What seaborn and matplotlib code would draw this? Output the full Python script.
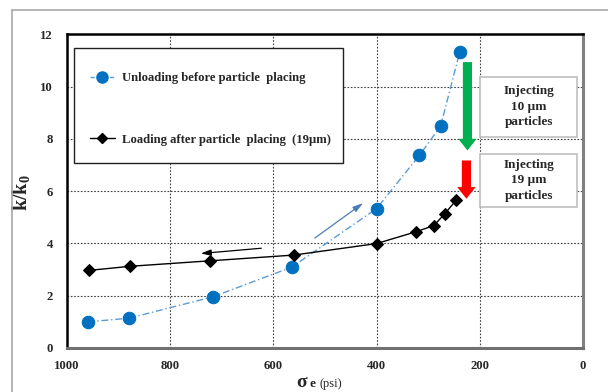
import matplotlib
matplotlib.use("Agg")
import matplotlib.pyplot as plt
from matplotlib.lines import Line2D
from matplotlib.patches import Rectangle
import pandas as pd
import seaborn as sns

# unloading before particle placing (blue)
unload_stress = [960, 880, 717, 564, 400, 317, 276, 239]
unload_k = [0.99, 1.13, 1.95, 3.09, 5.33, 7.37, 8.49, 11.32]

# loading after particle placing 19um (black)
load_stress = [958, 877, 722, 560, 400, 324, 289, 268, 246]
load_k = [2.96, 3.12, 3.33, 3.55, 3.99, 4.44, 4.68, 5.13, 5.65]

x_ticks = [1000, 800, 600, 400, 200, 0]
y_ticks = [0, 2, 4, 6, 8, 10, 12]

legend_labels = ["Unloading before particle  placing",
                 "Loading after particle  placing  (19\u00b5m)"]
box_labels = ["Injecting\n10 \u00b5m\nparticles", "Injecting\n19 \u00b5m\nparticles"]

BLUE = "#0070C0"
BLUE_LINE = "#5B9BD5"
SERIF = ["Liberation Serif", "DejaVu Serif"]

sns.set_theme(style="white")
plt.rcParams["font.family"] = SERIF
plt.rcParams["mathtext.fontset"] = "custom"
plt.rcParams["mathtext.rm"] = "Liberation Serif"
plt.rcParams["mathtext.bf"] = "Liberation Serif:bold"

fig = plt.figure(figsize=(6.08, 3.92), dpi=100)
ax = fig.add_axes([0.110, 0.113, 0.849, 0.799])

unload = pd.DataFrame({"stress": unload_stress, "k": unload_k})
load = pd.DataFrame({"stress": load_stress, "k": load_k})

sns.lineplot(data=unload, x="stress", y="k", ax=ax, sort=False, estimator=None,
             color=BLUE_LINE, lw=1.0, linestyle=(0, (5, 2, 1, 2)),
             marker="o", markersize=9, markerfacecolor=BLUE,
             markeredgecolor=BLUE, zorder=4)
sns.lineplot(data=load, x="stress", y="k", ax=ax, sort=False, estimator=None,
             color="black", lw=1.0, marker="D", markersize=6.5,
             markerfacecolor="black", markeredgecolor="black", zorder=5)

ax.set_xlim(1000, 0)
ax.set_ylim(0, 12)
ax.set_xticks(x_ticks)
ax.set_yticks(y_ticks)
ax.tick_params(length=0, labelsize=9.2)
ax.tick_params(axis="x", pad=9)
ax.tick_params(axis="y", pad=10)
for lab in ax.get_xticklabels() + ax.get_yticklabels():
    lab.set_fontweight("bold")
ax.grid(True, linestyle=(0, (1.5, 1.5)), color="#404040", lw=0.8)

ax.spines["left"].set_color("black")
ax.spines["top"].set_color("black")
ax.spines["left"].set_linewidth(1.8)
ax.spines["top"].set_linewidth(1.8)
ax.spines["right"].set_color("#808080")
ax.spines["bottom"].set_color("#707070")
ax.spines["right"].set_linewidth(2.2)
ax.spines["bottom"].set_linewidth(2.2)

ax.set_xlabel("")
ax.set_ylabel(r"$\mathbf{k/k}_{\mathbf{0}}$", fontsize=14.5, labelpad=0)
ax.yaxis.set_label_coords(-0.066, 0.494)

# x label: large sigma, bold e, plain (psi)
fig.text(0.488, 0.012, "\u03c3", fontsize=14, fontweight="bold", ha="left", va="baseline")
fig.text(0.509, 0.012, "e", fontsize=9.5, fontweight="bold", ha="left", va="baseline")
fig.text(0.525, 0.012, "(psi)", fontsize=9, ha="left", va="baseline")

# legend box
ax.add_patch(Rectangle((0.014, 0.59), 0.52, 0.368, transform=ax.transAxes,
                       facecolor="white", edgecolor="#202020", lw=1.0, zorder=6))
handles = [
    Line2D([], [], color=BLUE_LINE, lw=1.0, linestyle=(0, (3, 1.5, 1, 1.5)),
           marker="o", markersize=8, markerfacecolor=BLUE, markeredgecolor=BLUE),
    Line2D([], [], color="black", lw=1.0, marker="D", markersize=5),
]
leg = ax.legend(handles, legend_labels, loc="upper left", bbox_to_anchor=(0.022, 0.915),
                frameon=False, handlelength=2.0, handletextpad=0.55, labelspacing=3.9,
                prop={"family": SERIF, "weight": "bold", "size": 9.1})
leg.set_zorder(7)

# annotation boxes
for (y0, h), txt in zip([(0.673, 0.192), (0.449, 0.170)], box_labels):
    ax.add_patch(Rectangle((0.800, y0), 0.189, h, transform=ax.transAxes,
                           facecolor="white", edgecolor="#BFBFBF", lw=1.2, zorder=6))
    ax.text(0.895, y0 + h / 2, txt, transform=ax.transAxes, ha="center", va="center",
            fontsize=9.5, fontweight="bold", linespacing=1.38, zorder=7)

# injection arrows
ax.annotate("", xy=(224, 7.45), xytext=(224, 11.05),
            arrowprops=dict(arrowstyle="simple,head_width=1.1,head_length=0.7,tail_width=0.55",
                            color="#00B050", lw=0), zorder=8)
ax.annotate("", xy=(226, 5.6), xytext=(226, 7.28),
            arrowprops=dict(arrowstyle="simple,head_width=1.1,head_length=0.7,tail_width=0.55",
                            color="#FF0000", lw=0), zorder=8)

# direction arrows
ax.annotate("", xy=(746, 3.6), xytext=(618, 3.82),
            arrowprops=dict(arrowstyle="-|>,head_length=0.5,head_width=0.15",
                            color="black", lw=0.9))
ax.annotate("", xy=(422, 5.6), xytext=(524, 4.14),
            arrowprops=dict(arrowstyle="-|>,head_length=0.5,head_width=0.15",
                            color="#4A7EBB", lw=0.9))

# outer chart frame
fig.add_artist(Line2D([12 / 608, 12 / 608], [0, 1 - 10 / 392], color="#A8A8A8", lw=1.2))
fig.add_artist(Line2D([12 / 608, 1], [1 - 10 / 392, 1 - 10 / 392], color="#A8A8A8", lw=1.2))

fig.savefig("out.png", dpi=100)
